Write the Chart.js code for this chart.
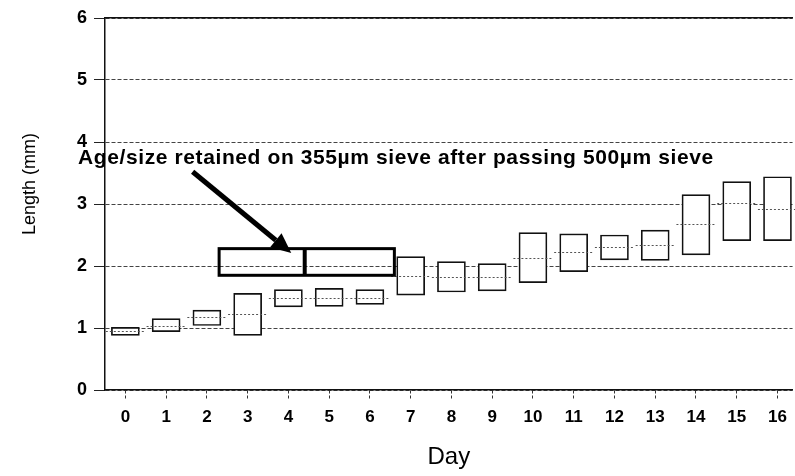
<!DOCTYPE html>
<html>
<head>
<meta charset="utf-8">
<script src="https://cdn.jsdelivr.net/npm/chart.js@4.4.1/dist/chart.umd.min.js"></script>
<style>
  html, body { margin: 0; padding: 0; background: #fff; }
  #wrap { width: 795px; height: 476px; }
</style>
</head>
<body>
<div id="wrap"><canvas id="myChart"></canvas></div>
<script>
// Length ranges per day (mm)
const days = [0, 1, 2, 3, 4, 5, 6, 7, 8, 9, 10, 11, 12, 13, 14, 15, 16];
const lows = [0.88, 0.94, 1.04, 0.88, 1.34, 1.35, 1.38, 1.53, 1.58, 1.60, 1.73, 1.91, 2.10, 2.09, 2.18, 2.41, 2.41];
const highs = [1.01, 1.15, 1.29, 1.56, 1.62, 1.64, 1.62, 2.15, 2.07, 2.04, 2.54, 2.52, 2.50, 2.58, 3.15, 3.36, 3.44];
const medians = [0.95, 1.04, 1.18, 1.22, 1.49, 1.49, 1.49, 1.84, 1.82, 1.83, 2.13, 2.22, 2.31, 2.34, 2.68, 3.02, 2.92];

// Annotation: sieve box, marker and arrow (data coordinates)
const sieveDays = [2.3, 6.6];
const sieveLength = [1.85, 2.28];
const sieveMarkDay = 4.4;
const arrowFrom = [1.65, 3.52];
const arrowTo = [4.07, 2.21];
const noteText = 'Age/size retained on 355µm sieve after passing 500µm sieve';
const notePos = [-1.16, 3.65];

const boxes = days.map((d, i) => ({ x: d, y: [lows[i], highs[i]] }));

// Draws medians (dotted) and the sieve annotation
const annotate = {
    id: 'annotate',
    afterDatasetsDraw(chart) {
        const ctx = chart.ctx;
        const x = chart.scales.x, y = chart.scales.y;
        ctx.save();
        // medians
        ctx.strokeStyle = '#555';
        ctx.lineWidth = 1;
        ctx.setLineDash([2, 2]);
        medians.forEach((m, i) => {
            const py = Math.round(y.getPixelForValue(m)) + 0.5;
            ctx.beginPath();
            ctx.moveTo(x.getPixelForValue(days[i] - 0.48), py);
            ctx.lineTo(x.getPixelForValue(days[i] + 0.48), py);
            ctx.stroke();
        });
        ctx.setLineDash([]);

        // sieve rectangle
        const x1 = x.getPixelForValue(sieveDays[0]), x2 = x.getPixelForValue(sieveDays[1]);
        const y1 = y.getPixelForValue(sieveLength[1]), y2 = y.getPixelForValue(sieveLength[0]);
        ctx.strokeStyle = '#000';
        ctx.lineWidth = 3;
        ctx.strokeRect(x1, y1, x2 - x1, y2 - y1);
        // thick marker
        const mx = x.getPixelForValue(sieveMarkDay);
        ctx.lineWidth = 4;
        ctx.beginPath();
        ctx.moveTo(mx, y1);
        ctx.lineTo(mx, y2);
        ctx.stroke();

        // arrow
        const ax1 = x.getPixelForValue(arrowFrom[0]), ay1 = y.getPixelForValue(arrowFrom[1]);
        const ax2 = x.getPixelForValue(arrowTo[0]), ay2 = y.getPixelForValue(arrowTo[1]);
        const ang = Math.atan2(ay2 - ay1, ax2 - ax1);
        const headLen = 20, headW = 9;
        const bx = ax2 - headLen * Math.cos(ang), by = ay2 - headLen * Math.sin(ang);
        ctx.lineWidth = 5;
        ctx.beginPath();
        ctx.moveTo(ax1, ay1);
        ctx.lineTo(bx, by);
        ctx.stroke();
        ctx.fillStyle = '#000';
        ctx.beginPath();
        ctx.moveTo(ax2, ay2);
        ctx.lineTo(bx + headW * Math.sin(ang), by - headW * Math.cos(ang));
        ctx.lineTo(bx - headW * Math.sin(ang), by + headW * Math.cos(ang));
        ctx.closePath();
        ctx.fill();

        // note
        ctx.font = 'bold 21px "Liberation Sans", Arial, sans-serif';
        ctx.letterSpacing = '0.6px';
        ctx.textBaseline = 'alphabetic';
        ctx.textAlign = 'left';
        ctx.fillText(noteText, x.getPixelForValue(notePos[0]), y.getPixelForValue(notePos[1]));
        ctx.restore();
    }
};

const font = '"Liberation Sans", Arial, Helvetica, sans-serif';

let ctx = document.getElementById('myChart').getContext('2d');
let myChart = new Chart(ctx, {
    type: 'bar',
    data: {
        datasets: [{
            data: boxes,
            backgroundColor: '#fff',
            borderColor: '#111',
            borderWidth: 1.7,
            borderSkipped: false,
            barThickness: 28
        }]
    },
    options: {
        responsive: true,
        maintainAspectRatio: false,
        animation: false,
        events: [],
        layout: { padding: { top: 18, right: 0, left: 0, bottom: 0 } },
        plugins: {
            legend: { display: false },
            tooltip: { enabled: false }
        },
        scales: {
            x: {
                type: 'linear',
                offset: false,
                min: -0.5,
                max: 16.37,
                ticks: {
                    stepSize: 1,
                    includeBounds: false,
                    color: '#000',
                    padding: 8,
                    maxRotation: 0,
                    autoSkip: false,
                    font: { family: font, size: 17, weight: 'bold' }
                },
                grid: {
                    offset: false,
                    drawOnChartArea: false,
                    drawTicks: true,
                    tickLength: 9,
                    tickColor: '#333',
                    tickBorderDash: [3, 2]
                },
                border: { color: '#111', width: 1.5 },
                title: {
                    display: true,
                    text: 'Day',
                    color: '#000',
                    padding: { top: 0, bottom: 4 },
                    font: { family: font, size: 24 }
                },
                afterFit: s => { s.height = 86; }
            },
            xTop: {
                type: 'linear',
                position: 'top',
                display: true,
                ticks: { display: false },
                grid: { display: false, drawTicks: false },
                border: { color: '#111', width: 1.5 },
                afterFit: s => { s.height = 0; }
            },
            y: {
                min: 0,
                max: 6,
                ticks: {
                    stepSize: 1,
                    color: '#000',
                    padding: 7,
                    font: { family: font, size: 18, weight: 'bold' }
                },
                grid: {
                    color: '#444',
                    lineWidth: 1,
                    tickLength: 11,
                    tickColor: '#222'
                },
                border: { color: '#111', width: 1.5, dash: [4, 2] },
                title: {
                    display: true,
                    text: '        Length (mm)',
                    color: '#000',
                    padding: { top: 19, bottom: 0 },
                    font: { family: font, size: 18 }
                },
                afterFit: s => { s.width = 105; }
            }
        }
    },
    plugins: [annotate]
});
</script>
</body>
</html>
